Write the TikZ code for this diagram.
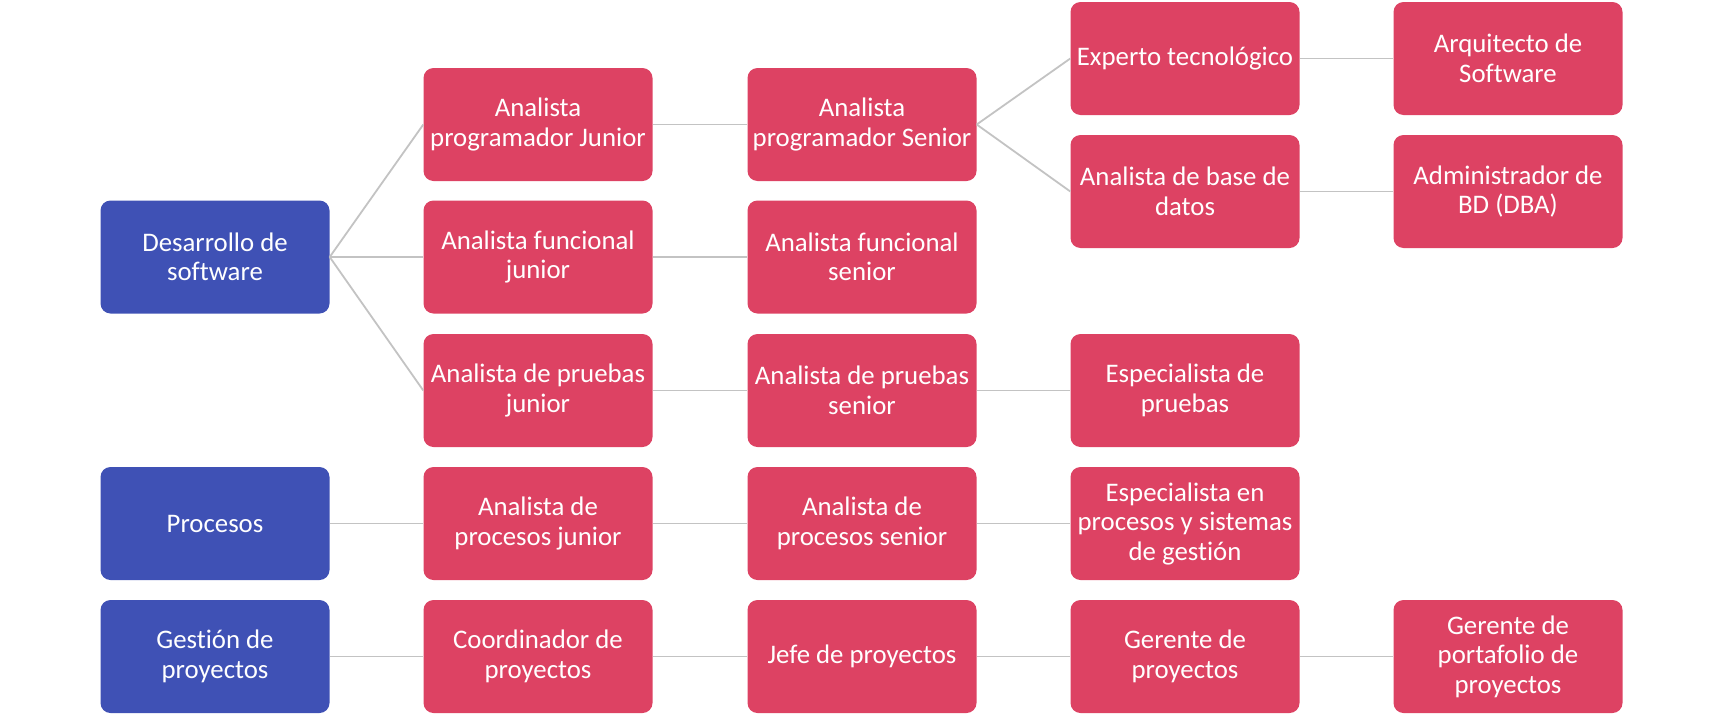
\documentclass[tikz,border=0pt]{standalone}
\usepackage{fontspec}
\setmainfont{Carlito}[Ligatures=NoCommon]
\definecolor{boxblue}{RGB}{63,81,181}
\definecolor{boxred}{RGB}{221,66,99}
\definecolor{linegray}{RGB}{195,195,195}
\begin{document}
\begin{tikzpicture}[x=1pt,y=-1pt,
  box/.style={rounded corners=10pt, minimum width=229pt, minimum height=113pt, inner sep=0pt, text=white, align=center, font=\fontsize{26.8}{29.5}\selectfont},
  cat/.style={box, fill=boxblue},
  role/.style={box, fill=boxred},
  link/.style={draw=linegray, line width=1.8pt}]
\useasboundingbox (0,0) rectangle (1725,718);
% column 0
\node[cat] (dev) at (215,257) {Desarrollo de\\software};
\node[cat] (proc) at (215,523.5) {Procesos};
\node[cat] (gest) at (215,656.5) {Gestión de\\proyectos};
% column 1
\node[role] (apj) at (538,124.5) {Analista\\programador Junior};
\node[role] (afj) at (538,257) {Analista funcional\\junior};
\node[role] (apruj) at (538,390.5) {Analista de pruebas\\junior};
\node[role] (aprocj) at (538,523.5) {Analista de\\procesos junior};
\node[role] (coord) at (538,656.5) {Coordinador de\\proyectos};
% column 2
\node[role] (aps) at (862,124.5) {Analista\\programador Senior};
\node[role] (afs) at (862,257) {Analista funcional\\senior};
\node[role] (aprus) at (862,390.5) {Analista de pruebas\\senior};
\node[role] (aprocs) at (862,523.5) {Analista de\\procesos senior};
\node[role] (jefe) at (862,656.5) {Jefe de proyectos};
% column 3
\node[role] (exp) at (1185,58.5) {Experto tecnológico};
\node[role] (abd) at (1185,191.5) {Analista de base de\\datos};
\node[role] (espp) at (1185,390.5) {Especialista de\\pruebas};
\node[role] (espproc) at (1185,523.5) {Especialista en\\procesos y sistemas\\de gestión};
\node[role] (ger) at (1185,656.5) {Gerente de\\proyectos};
% column 4
\node[role] (arq) at (1508,58.5) {Arquitecto de\\Software};
\node[role] (dba) at (1508,191.5) {Administrador de\\BD (DBA)};
\node[role] (gport) at (1508,656.5) {Gerente de\\portafolio de\\proyectos};
% connectors
\draw[link] (dev.east) -- (apj.west);
\draw[link] (dev.east) -- (afj.west);
\draw[link] (dev.east) -- (apruj.west);
\draw[link] (apj.east) -- (aps.west);
\draw[link] (afj.east) -- (afs.west);
\draw[link] (apruj.east) -- (aprus.west);
\draw[link] (aps.east) -- (exp.west);
\draw[link] (aps.east) -- (abd.west);
\draw[link] (exp.east) -- (arq.west);
\draw[link] (abd.east) -- (dba.west);
\draw[link] (aprus.east) -- (espp.west);
\draw[link] (proc.east) -- (aprocj.west);
\draw[link] (aprocj.east) -- (aprocs.west);
\draw[link] (aprocs.east) -- (espproc.west);
\draw[link] (gest.east) -- (coord.west);
\draw[link] (coord.east) -- (jefe.west);
\draw[link] (jefe.east) -- (ger.west);
\draw[link] (ger.east) -- (gport.west);
\end{tikzpicture}
\end{document}
